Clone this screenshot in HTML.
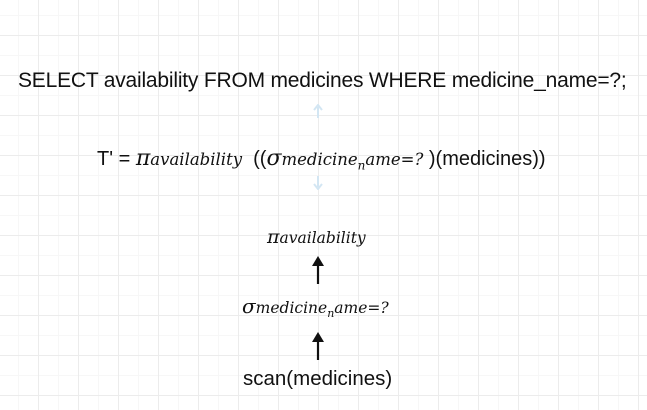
<!DOCTYPE html>
<html><head><meta charset="utf-8"><style>
body{margin:0;width:647px;height:410px;overflow:hidden;background:#fff;
background-image:linear-gradient(#ececec 1px,transparent 1px),linear-gradient(90deg,#ececec 1px,transparent 1px),linear-gradient(#f7f7f7 1px,transparent 1px),linear-gradient(90deg,#f7f7f7 1px,transparent 1px);
background-size:40px 40px,40px 40px,20px 20px,20px 20px;background-position:-2px -5px;
font-family:"Liberation Sans",sans-serif;color:#111;position:relative}
.t{position:absolute;white-space:nowrap}
.m{font-family:"DejaVu Serif",serif;font-style:italic}
</style></head><body>
<div class="t" style="left:18px;top:69px;font-size:21px;letter-spacing:-0.2px">SELECT availability FROM medicines WHERE medicine_name=?;</div>
<svg class="t" style="left:312px;top:104px" width="12" height="14"><path d="M6 14V3M2 6L6 1L10 6" stroke="#d3e6f3" stroke-width="2" fill="none"/></svg>
<div class="t" style="left:97px;top:146px;font-size:20px">T' = <span class="m" style="font-size:22px">π<span style="font-size:16.5px">availability</span></span>&nbsp; ((<span class="m" style="font-size:22px">σ<span style="font-size:16.5px">medicine<sub style="font-size:12px">n</sub>ame=?</span></span>&nbsp;)(medicines))</div>
<svg class="t" style="left:312px;top:176px" width="12" height="14"><path d="M6 0V11M2 8L6 13L10 8" stroke="#d3e6f3" stroke-width="2" fill="none"/></svg>
<div class="t m" style="left:267px;top:226px;font-size:19px">π<span style="font-size:15.5px">availability</span></div>
<svg class="t" style="left:311px;top:254px" width="14" height="30"><path d="M7 30V4" stroke="#111" stroke-width="2.2"/><path d="M1 12L7 2L13 12Z" fill="#111"/></svg>
<div class="t m" style="left:242px;top:294px;font-size:20px">σ<span style="font-size:15.5px">medicine<sub style="font-size:11px">n</sub>ame=?</span></div>
<svg class="t" style="left:311px;top:330px" width="14" height="30"><path d="M7 30V4" stroke="#111" stroke-width="2.2"/><path d="M1 12L7 2L13 12Z" fill="#111"/></svg>
<div class="t" style="left:243px;top:367px;font-size:20.5px">scan(medicines)</div>
</body></html>
